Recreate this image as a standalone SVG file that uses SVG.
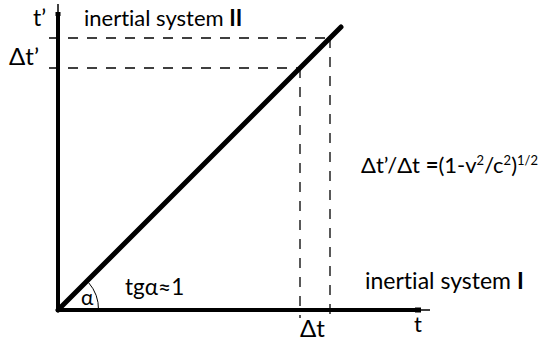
<svg xmlns="http://www.w3.org/2000/svg" width="547" height="341" viewBox="0 0 547 341">
<style>
text{font-family:Lato,"Open Sans","DejaVu Sans",sans-serif;fill:#000;font-variant-ligatures:none}
.dash{stroke:#000;stroke-width:1.3;stroke-dasharray:10 9;fill:none}
.axis{stroke:#000;stroke-width:4;fill:none}
</style>
<rect width="547" height="341" fill="#fff"/>
<g id="connectors">
  <line class="dash" x1="49" y1="38" x2="330" y2="38"/>
  <line class="dash" x1="49" y1="68" x2="300" y2="68"/>
  <line class="dash" x1="330" y1="38" x2="330" y2="318"/>
  <line class="dash" x1="300" y1="68" x2="300" y2="318"/>
</g>
<g id="axis-t-prime">
  <line class="axis" x1="58" y1="312" x2="58" y2="15"/>
  <rect x="55.5" y="12" width="5" height="4" fill="#000"/>
  <line x1="58" y1="4" x2="58" y2="14" stroke="#000" stroke-width="1.5"/>
  <text x="33" y="26" font-size="23">t’</text>
  <text x="84" y="26" font-size="22">inertial system <tspan font-weight="bold">II</tspan></text>
  <text x="9" y="65" font-size="24">Δt’</text>
</g>
<g id="axis-t">
  <line class="axis" x1="56" y1="310" x2="420" y2="310"/>
  <rect x="415" y="307.5" width="6" height="5" fill="#000"/>
  <line x1="420" y1="310" x2="430" y2="310" stroke="#000" stroke-width="1.5"/>
  <text x="414" y="332" font-size="22">t</text>
  <text x="365" y="289" font-size="23">inertial system <tspan font-weight="bold">I</tspan></text>
  <text x="300" y="337" font-size="24">Δt</text>
</g>
<g id="worldline">
  <line x1="58" y1="310" x2="341" y2="27" stroke="#000" stroke-width="5" stroke-linecap="round"/>
  <path d="M 88.5 282.5 A 41 41 0 0 1 98.5 310" fill="none" stroke="#000" stroke-width="1"/>
  <text x="81" y="305" font-size="21">α</text>
  <text x="125" y="295" font-size="22.5">tgα≈1</text>
</g>
<g id="formula">
  <text x="361" y="173" font-size="22">Δt’/Δt <tspan font-weight="bold">=</tspan>(1-v<tspan font-size="13" dy="-8">2</tspan><tspan dy="8">/c</tspan><tspan font-size="13" dy="-8">2</tspan><tspan dy="8">)</tspan><tspan font-size="13" dy="-8">1/2</tspan></text>
</g>
</svg>
